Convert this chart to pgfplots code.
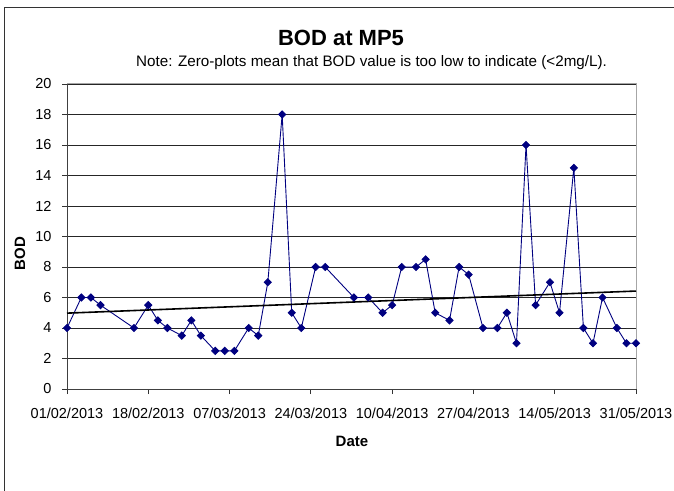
\documentclass[border=0pt]{standalone}
\usepackage{pgfplots}
\usepackage{pgfplotstable}
\pgfplotsset{compat=1.18}
\usepackage{fontspec}
\setmainfont{Liberation Sans}
\definecolor{excelnavy}{RGB}{0,0,128}
\pgfplotstableread{
day bod
0 4
3 6
5 6
7 5.5
14 4
17 5.5
19 4.5
21 4
24 3.5
26 4.5
28 3.5
31 2.5
33 2.5
35 2.5
38 4
40 3.5
42 7
45 18
47 5
49 4
52 8
54 8
60 6
63 6
66 5
68 5.5
70 8
73 8
75 8.5
77 5
80 4.5
82 8
84 7.5
87 4
90 4
92 5
94 3
96 16
98 5.5
101 7
103 5
106 14.5
108 4
110 3
112 6
115 4
117 3
119 3
}\bodtable
\begin{document}
\begin{tikzpicture}[x=1pt,y=1pt]
\useasboundingbox (0,0) rectangle (674,490);
\draw[black!80, line width=1pt] (4.5,-5) -- (4.5,482) -- (680,482);
\begin{axis}[
  at={(67pt,101pt)}, anchor=south west,
  scale only axis, width=569pt, height=305pt,
  xmin=0, xmax=119, ymin=0, ymax=20,
  axis x line*=bottom, axis y line*=left,
  axis line style={black!75, line width=0.8pt},
  xtick={0,17,34,51,68,85,102,119},
  xticklabels={01/02/2013,18/02/2013,07/03/2013,24/03/2013,10/04/2013,27/04/2013,14/05/2013,31/05/2013},
  ytick={0,2,...,20},
  tick align=outside, major tick length=5pt,
  tick style={black!80, line width=0.8pt},
  /pgf/number format/assume math mode=true,
  ticklabel style={font=\fontsize{14.5}{16}\selectfont},
  xticklabel style={anchor=base, yshift=-24.5pt},
  yticklabel style={anchor=east, xshift=-7pt},
  ymajorgrids, major grid style={black!85, line width=0.8pt},
  clip=false,
]
\draw[gray!70, line width=1pt] (rel axis cs:0,1) -- (rel axis cs:1,1) -- (rel axis cs:1,0);
\addplot[excelnavy, line width=0.9pt, mark=square*, mark size=2.5pt, mark options={rotate=45, solid}] table[x=day, y=bod] {\bodtable};
\addplot[black, line width=1.6pt, no marks] table[x=day, y={create col/linear regression={y=bod}}] {\bodtable};
\end{axis}
\node[font=\fontsize{22}{24}\selectfont\bfseries, anchor=base] at (341,444) {BOD at MP5};
\node[font=\fontsize{15.2}{17}\selectfont, anchor=base west, inner sep=0pt] at (136,423.3) {Note: Zero-plots mean that BOD value is too low to indicate (<2mg/L).};
\node[font=\fontsize{15}{17}\selectfont\bfseries, anchor=base] at (352,43.3) {Date};
\node[font=\fontsize{15}{17}\selectfont\bfseries, anchor=base, rotate=90, inner sep=0pt] at (25,236.5) {BOD};
\end{tikzpicture}
\end{document}
